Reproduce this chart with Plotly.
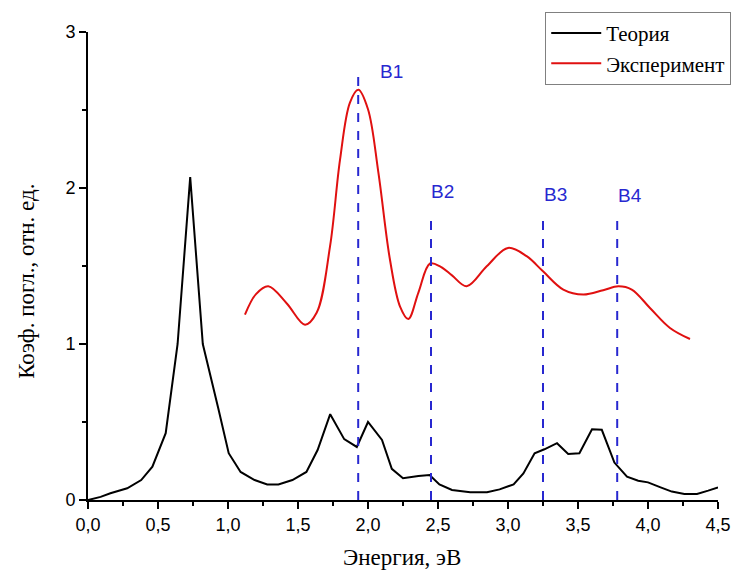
import plotly.graph_objects as go

# Theory curve (black)
theory_x = [0.0, 0.09, 0.16, 0.28, 0.38, 0.46, 0.555, 0.64, 0.73, 0.82, 0.93, 1.005, 1.09, 1.19, 1.28,
            1.36, 1.46, 1.56, 1.64, 1.73, 1.83, 1.92, 2.0, 2.1, 2.17, 2.25, 2.36, 2.44, 2.51, 2.6,
            2.73, 2.85, 2.94, 3.04, 3.11, 3.19, 3.26, 3.35, 3.43, 3.51, 3.6, 3.67, 3.76, 3.85,
            3.93, 4.0, 4.09, 4.17, 4.26, 4.35, 4.43, 4.5]
theory_y = [0.0, 0.02, 0.043, 0.075, 0.128, 0.214, 0.428, 1.0, 2.07, 1.0, 0.59, 0.30, 0.18, 0.128, 0.10,
            0.10, 0.128, 0.18, 0.32, 0.55, 0.39, 0.34, 0.50, 0.385, 0.20, 0.14, 0.154, 0.16, 0.10, 0.064,
            0.049, 0.05, 0.068, 0.10, 0.17, 0.30, 0.325, 0.364, 0.295, 0.30, 0.454, 0.45, 0.24, 0.15,
            0.124, 0.113, 0.081, 0.054, 0.039, 0.039, 0.06, 0.081]

# Experiment curve (red)
exp_x = [1.121, 1.2, 1.288, 1.42, 1.55, 1.633, 1.729, 1.80, 1.871, 1.931, 2.0, 2.074, 2.157, 2.229,
         2.288, 2.36, 2.443, 2.52, 2.60, 2.705, 2.848, 3.0, 3.133, 3.25, 3.395, 3.538, 3.68, 3.788,
         3.884, 4.014, 4.157, 4.3]
exp_y = [1.188, 1.32, 1.37, 1.26, 1.124, 1.20, 1.627, 2.18, 2.548, 2.63, 2.505, 2.10, 1.54, 1.24,
         1.16, 1.33, 1.516, 1.495, 1.44, 1.37, 1.498, 1.616, 1.563, 1.466, 1.349, 1.317, 1.345, 1.37,
         1.349, 1.231, 1.103, 1.032]

# Band markers
band_labels = ["B1", "B2", "B3", "B4"]
band_x = [1.93, 2.45, 3.25, 3.78]
band_top = [2.75, 1.83, 1.83, 1.82]
label_x = [2.17, 2.53, 3.34, 3.87]
label_y = [2.75, 1.98, 1.96, 1.95]

xtick_vals = [0, 0.5, 1.0, 1.5, 2.0, 2.5, 3.0, 3.5, 4.0, 4.5]
xtick_text = ["0,0", "0,5", "1,0", "1,5", "2,0", "2,5", "3,0", "3,5", "4,0", "4,5"]
ytick_vals = [0, 1, 2, 3]
ytick_text = ["0", "1", "2", "3"]

x_title = "Энергия, эВ"
y_title = "Коэф. погл., отн. ед."

serif = "Liberation Serif, Times New Roman, serif"
sans = "Liberation Sans, Arial, sans-serif"

fig = go.Figure()
fig.add_trace(go.Scatter(x=theory_x, y=theory_y, mode="lines", name="Теория",
                         line=dict(color="black", width=2)))
fig.add_trace(go.Scatter(x=exp_x, y=exp_y, mode="lines", name="Эксперимент",
                         line=dict(color="#e01010", width=2, shape="spline", smoothing=1.0)))

for bx, bt in zip(band_x, band_top):
    fig.add_shape(type="line", x0=bx, x1=bx, y0=0, y1=bt, xref="x", yref="y",
                  line=dict(color="#2828d0", width=2, dash="dash"))
for lab, lx, ly in zip(band_labels, label_x, label_y):
    fig.add_annotation(x=lx, y=ly, text=lab, showarrow=False, xref="x", yref="y",
                       xanchor="center", yanchor="middle",
                       font=dict(family=sans, size=19, color="#2828d0"))

# axis titles placed as annotations in paper coordinates
fig.add_annotation(x=0.4985, y=-0.122, xref="paper", yref="paper", text=x_title, showarrow=False,
                   xanchor="center", yanchor="middle",
                   font=dict(family=serif, size=23, color="black"))
fig.add_annotation(x=-0.097, y=0.468, xref="paper", yref="paper", text=y_title, showarrow=False,
                   xanchor="center", yanchor="middle", textangle=-90,
                   font=dict(family=serif, size=23, color="black"))

fig.update_layout(
    width=732, height=572,
    margin=dict(l=88, r=14, t=32, b=72, autoexpand=False),
    plot_bgcolor="white", paper_bgcolor="white",
    showlegend=True,
    legend=dict(x=1.021, y=1.043, xanchor="right", yanchor="top",
                bordercolor="#808080", borderwidth=1, bgcolor="white",
                font=dict(family=serif, size=21, color="black"),
                tracegroupgap=0, itemwidth=50),
)
fig.update_xaxes(range=[0, 4.5], showline=True, linecolor="black", linewidth=2,
                 ticks="outside", ticklen=7, tickwidth=2, tickcolor="black",
                 tickvals=xtick_vals, ticktext=xtick_text, showgrid=False, zeroline=False,
                 tickfont=dict(family=sans, size=18, color="black"),
                 minor=dict(dtick=0.25, ticks="outside", ticklen=4, tickwidth=2, tickcolor="black", showgrid=False))
fig.update_yaxes(range=[0, 3], showline=True, linecolor="black", linewidth=2,
                 ticks="outside", ticklen=7, tickwidth=2, tickcolor="black",
                 tickvals=ytick_vals, ticktext=ytick_text, showgrid=False, zeroline=False,
                 tickfont=dict(family=sans, size=18, color="black"),
                 minor=dict(dtick=0.5, ticks="outside", ticklen=4, tickwidth=2, tickcolor="black", showgrid=False))

fig.write_html("out.html")
